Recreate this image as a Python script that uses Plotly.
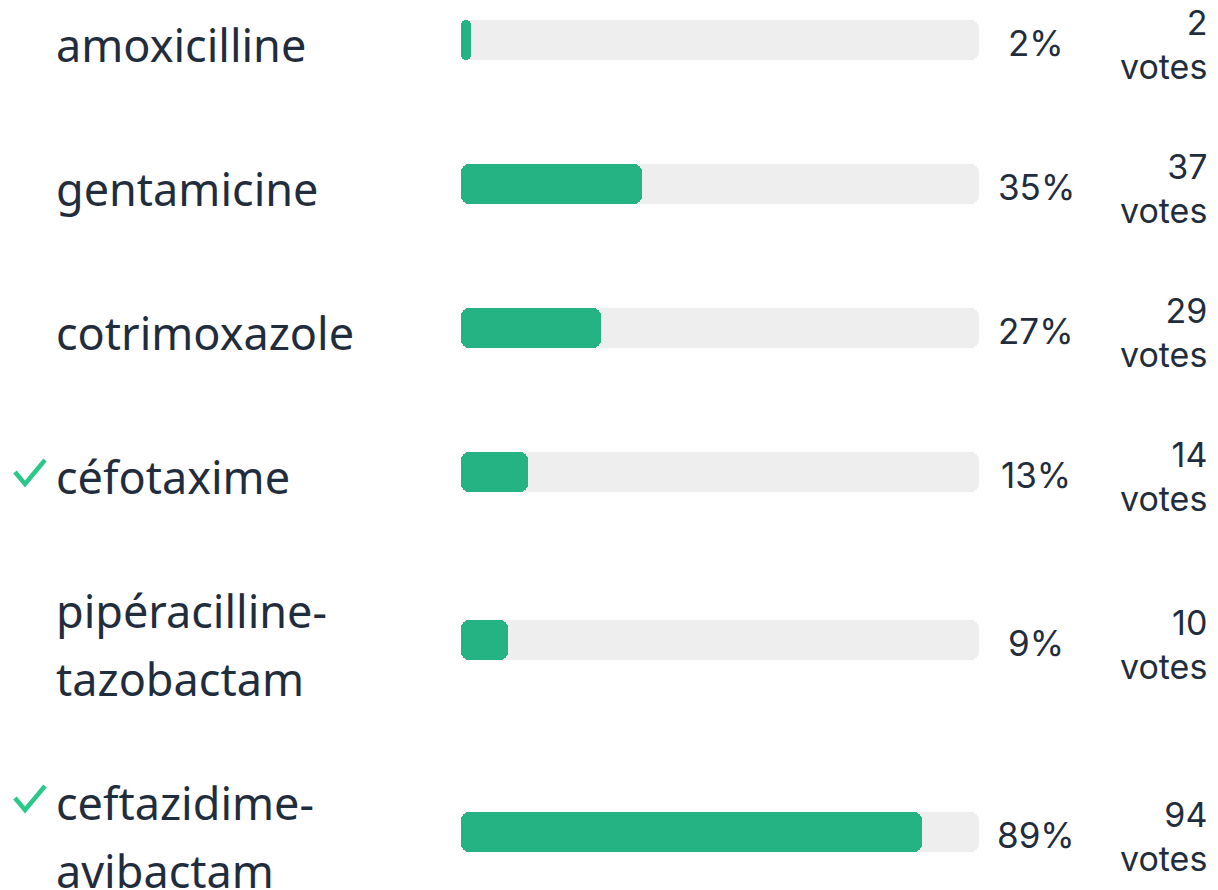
import plotly.graph_objects as go

# ---- data ----
labels = [
    ["amoxicilline"],
    ["gentamicine"],
    ["cotrimoxazole"],
    ["céfotaxime"],
    ["pipéracilline-", "tazobactam"],
    ["ceftazidime-", "avibactam"],
]
percents = [2, 35, 27, 13, 9, 89]
votes = [2, 37, 29, 14, 10, 94]
correct = [False, False, False, True, False, True]

# ---- style / layout constants ----
W, H = 1218, 890
TRACK_L, TRACK_R = 461, 979
BAR_H = 40
RADIUS = 8
ROW_BASE = 144
ROW_EXTRA = 48
FIRST_CENTER = 40
LINE_GAP = 68
TEXT_DY = 4
LABEL_X = 54
PCT_X = 1036
VOTES_X = 1209

GREEN = "#25b383"
CHECK = "#2bc88a"
TRACK = "#eeeeee"
TEXT = "#1f2d3d"
LABEL_FONT = "Noto Sans"
NUM_FONT = "Inter"

# row centers derived from number of label lines
heights = [ROW_BASE + ROW_EXTRA * (len(l) - 1) for l in labels]
centers = [FIRST_CENTER]
for i in range(1, len(labels)):
    centers.append(centers[-1] + (heights[i - 1] + heights[i]) / 2)

fig = go.Figure()


def rounded_bar(values, color):
    fig.add_trace(go.Bar(
        y=centers, x=values, base=[0] * len(values),
        orientation="h", width=BAR_H,
        marker=dict(color=color, cornerradius=RADIUS, line=dict(width=0)),
        hoverinfo="skip", showlegend=False,
    ))


rounded_bar([100] * len(percents), TRACK)
rounded_bar(percents, GREEN)

ann = []
shapes = []
for i, (lab, p, v, c, yc) in enumerate(zip(labels, percents, votes, correct, centers)):
    n = len(lab)
    line_ys = [yc + TEXT_DY + (j - (n - 1) / 2) * LINE_GAP for j in range(n)]
    for line, ly in zip(lab, line_ys):
        ann.append(dict(
            x=LABEL_X / W, xref="paper", y=ly, yref="y", text=line,
            xanchor="left", yanchor="middle", showarrow=False,
            font=dict(family=LABEL_FONT, size=45, color=TEXT),
        ))
    ann.append(dict(
        x=PCT_X / W, xref="paper", y=yc + 3, yref="y", text=f"{p}%",
        xanchor="center", yanchor="middle", showarrow=False,
        font=dict(family=NUM_FONT, size=35, color=TEXT),
    ))
    ann.append(dict(
        x=VOTES_X / W, xref="paper", y=yc + 4, yref="y", text=f"{v}<br>votes",
        xanchor="right", yanchor="middle", align="right", showarrow=False,
        font=dict(family=NUM_FONT, size=34, color=TEXT),
    ))
    if c:
        cy = line_ys[0] - TEXT_DY
        path = (f"M {15/W},{cy} L {25/W},{cy + 12} L {45/W},{cy - 12}")
        shapes.append(dict(
            type="path", path=path, xref="paper", yref="y",
            line=dict(color=CHECK, width=4.5),
        ))

fig.update_layout(
    width=W, height=H,
    margin=dict(l=0, r=0, t=0, b=0),
    paper_bgcolor="white", plot_bgcolor="white",
    barmode="overlay", bargap=0,
    xaxis=dict(domain=[TRACK_L / W, TRACK_R / W], range=[0, 100],
               visible=False, fixedrange=True),
    yaxis=dict(range=[H, 0], visible=False, fixedrange=True),
    annotations=ann, shapes=shapes,
)

fig.write_html(
    "out.html",
    config={"displayModeBar": False},
    post_script="document.body.style.margin='0';document.body.style.overflow='hidden';",
)
